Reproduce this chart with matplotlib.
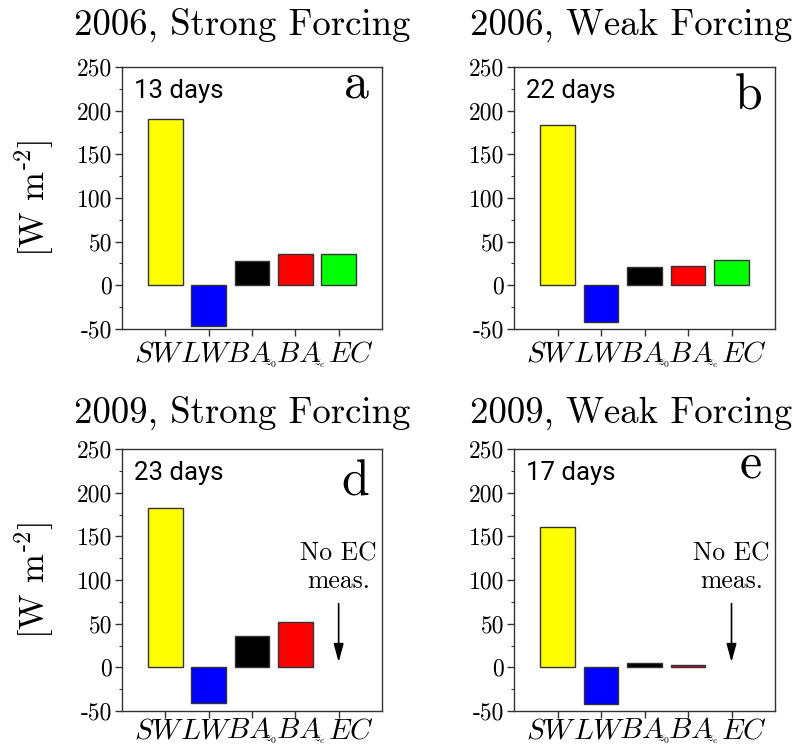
import numpy as np
import matplotlib
matplotlib.use('Agg')
import matplotlib.pyplot as plt
from matplotlib.ticker import MultipleLocator

plt.rcParams['mathtext.fontset'] = 'cm'
plt.rcParams['axes.unicode_minus'] = False

# surface energy budget terms (base symbol + subscript)
terms = ['SW', 'LW', 'BA', 'BA', 'EC']
term_subs = ['', '', 'z_0', 'z_e', '']
term_colors = ['#ffff00', '#0000ff', '#000000', '#ff0000', '#00ff00']

titles = ['2006, Strong Forcing', '2006, Weak Forcing',
          '2009, Strong Forcing', '2009, Weak Forcing']
panel_letters = ['a', 'b', 'd', 'e']
n_days = [13, 22, 23, 17]

# mean fluxes [W m-2]; EC missing in 2009
flux_2006_strong = [190, -47, 27.5, 36, 35.5]
flux_2006_weak = [184, -42.5, 20.5, 22, 29.5]
flux_2009_strong = [183, -41, 36, 51.5]
flux_2009_weak = [160.5, -42.5, 4.5, 2.3]
fluxes = [flux_2006_strong, flux_2006_weak, flux_2009_strong, flux_2009_weak]

serif = 'cmr10'
sans = 'Roboto'
PT = 0.72  # points per pixel at dpi 100

fig = plt.figure(figsize=(7.93, 7.49), dpi=100)
boxes = [[0.1538, 0.5608, 0.3279, 0.3498],
         [0.6482, 0.5608, 0.3291, 0.3498],
         [0.1538, 0.0507, 0.3279, 0.3498],
         [0.6482, 0.0507, 0.3291, 0.3498]]
letter_y = [0.885, 0.836, 0.824, 0.89]
title_pad = [23, 23, 19, 19]
title_x = [0.463, 0.448, 0.463, 0.448]
label_shift = [-6, -2, -3, 3, 12]       # px, x labels spread along the axis
label_drop = [33, 33, 27, 27]           # px from axis to label baseline

for i, box in enumerate(boxes):
    ax = fig.add_axes(box)
    vals = fluxes[i]
    x = np.arange(1, len(vals) + 1)
    ax.bar(x, vals, width=0.8, color=term_colors[:len(vals)],
           edgecolor='#333333', linewidth=1.0)

    ax.set_xlim(0, 6)
    ax.set_ylim(-50, 250)
    ax.set_xticks(np.arange(1, 6))
    ax.set_xticklabels([])
    # term labels below the ticks, subscripts set small at the lower right
    for k, name in enumerate(terms):
        ax.annotate(f'${name}$', xy=(k + 1, 0), xycoords=('data', 'axes fraction'),
                    xytext=(label_shift[k] * PT, -label_drop[i] * PT),
                    textcoords='offset points', fontsize=21,
                    ha='center', va='baseline')
        if term_subs[k]:
            ax.annotate(f'${term_subs[k]}$', xy=(k + 1, 0),
                        xycoords=('data', 'axes fraction'),
                        xytext=((label_shift[k] + 15) * PT,
                                -(label_drop[i] + 4) * PT),
                        textcoords='offset points', fontsize=10,
                        ha='left', va='baseline')
    ax.set_yticks(np.arange(-50, 251, 50))
    ax.yaxis.set_minor_locator(MultipleLocator(25))
    for lab in ax.get_yticklabels():
        lab.set_fontfamily(serif)
        lab.set_fontsize(17)
    ax.tick_params(axis='x', direction='out', length=5, width=1,
                   top=False, color='#333333')
    ax.tick_params(axis='y', which='major', direction='out', length=5,
                   width=1, right=False, color='#333333', pad=2)
    ax.tick_params(axis='y', which='minor', direction='out', length=2.5,
                   width=0.8, right=False, color='#333333')
    for sp in ax.spines.values():
        sp.set_color('#333333')
        sp.set_linewidth(1)

    ax.set_title(titles[i], fontfamily=serif, fontsize=26.5, pad=title_pad[i],
                 x=title_x[i])
    ax.text(0.045, 0.88, f'{n_days[i]} days', transform=ax.transAxes,
            fontfamily=sans, fontsize=18.5, ha='left', va='baseline')
    ax.text(0.95, letter_y[i], panel_letters[i], transform=ax.transAxes,
            fontfamily=serif, fontsize=36, ha='right', va='baseline')

    if i % 2 == 0:
        ax.set_ylabel(r'[W m$^{\text{-2}}$]', fontfamily=serif,
                      fontsize=25, labelpad=15)

    if len(vals) < len(terms):
        ax.text(5, 114, 'No EC\nmeas.', fontfamily=serif, fontsize=18.5,
                ha='center', va='center', linespacing=1.2)
        ax.annotate('', xy=(5, 6), xytext=(5, 73),
                    arrowprops=dict(arrowstyle='-|>,head_width=0.3,head_length=1.1',
                                    color='black', lw=1.2, shrinkA=0, shrinkB=0))

fig.savefig('out.png', dpi=100)
